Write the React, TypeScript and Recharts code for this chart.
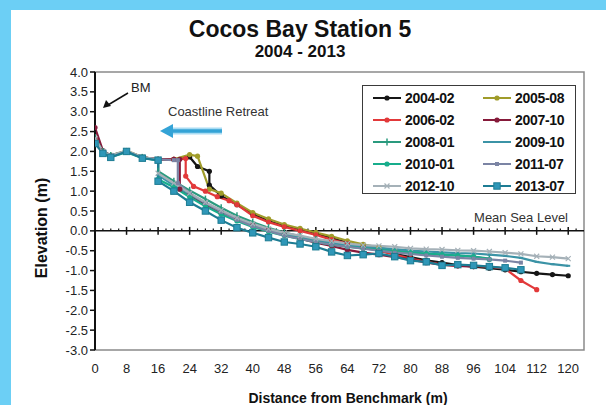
import React from 'react';
import { LineChart, Line, XAxis, YAxis, ReferenceLine, ReferenceArea, Legend } from 'recharts';

const FONT = '"Liberation Sans", Arial, sans-serif';

const distanceTicks = [0, 8, 16, 24, 32, 40, 48, 56, 64, 72, 80, 88, 96, 104, 112, 120];
const elevationTicks = [-3, -2.5, -2, -1.5, -1, -0.5, 0, 0.5, 1, 1.5, 2, 2.5, 3, 3.5, 4];

// survey profiles: distance from benchmark (m) / elevation (m)
const d2004_02 = [0, 2, 4, 8, 12, 16, 20, 24, 26, 29, 29, 32, 36, 40, 44, 48, 52, 56, 60, 64, 68, 72, 76, 80, 84, 88, 92, 96, 100, 104, 108, 112, 116, 120];
const e2004_02 = [2.3, 2.0, 1.88, 2.0, 1.85, 1.8, 1.8, 1.86, 1.62, 1.5, 1.15, 0.88, 0.66, 0.42, 0.25, 0.12, 0.04, -0.06, -0.18, -0.3, -0.4, -0.5, -0.58, -0.66, -0.74, -0.8, -0.86, -0.9, -0.94, -0.98, -1.03, -1.07, -1.1, -1.13];

const d2005_08 = [0, 2, 4, 8, 12, 16, 20, 24, 26, 29, 32, 36, 40, 44, 48, 52, 56, 60, 64, 68, 72, 76];
const e2005_08 = [2.28, 2.0, 1.9, 2.02, 1.86, 1.8, 1.8, 1.92, 1.88, 1.05, 0.95, 0.7, 0.46, 0.3, 0.16, 0.06, -0.04, -0.14, -0.25, -0.34, -0.42, -0.5];

const d2006_02 = [0, 2, 4, 8, 12, 16, 20, 23, 23, 25, 28, 31, 34, 36, 40, 44, 48, 52, 56, 60, 64, 68, 72, 76, 80, 84, 88, 92, 96, 100, 104, 108, 112];
const e2006_02 = [2.3, 2.0, 1.88, 2.0, 1.85, 1.8, 1.8, 1.82, 1.38, 1.12, 1.0, 0.86, 0.76, 0.66, 0.38, 0.22, 0.1, 0.0, -0.1, -0.22, -0.32, -0.42, -0.5, -0.6, -0.7, -0.78, -0.85, -0.88, -0.88, -0.9, -0.95, -1.25, -1.48];

const d2007_10 = [0, 2, 4, 8, 12, 16, 20, 21.5, 21.5, 24, 28, 32, 36, 40, 44, 48, 52, 56, 60, 64, 68, 72, 76, 80, 84, 88, 92, 96];
const e2007_10 = [2.6, 2.02, 1.9, 2.0, 1.85, 1.8, 1.8, 1.8, 1.05, 0.9, 0.66, 0.45, 0.28, 0.14, 0.02, -0.1, -0.2, -0.3, -0.38, -0.48, -0.55, -0.6, -0.66, -0.72, -0.8, -0.85, -0.88, -0.9];

const d2008_01 = [0, 2, 4, 8, 12, 16, 16, 20, 24, 28, 32, 36, 40, 44, 48, 52, 56, 60, 64, 68, 72, 76, 80, 84, 88, 92, 96, 100];
const e2008_01 = [2.35, 2.0, 1.9, 2.0, 1.85, 1.78, 1.5, 1.25, 1.02, 0.8, 0.58, 0.38, 0.22, 0.08, -0.04, -0.14, -0.22, -0.3, -0.36, -0.42, -0.46, -0.5, -0.54, -0.58, -0.6, -0.62, -0.65, -0.7];

const d2009_10 = [0, 2, 4, 8, 12, 16, 16, 20, 24, 28, 32, 36, 40, 44, 48, 52, 56, 60, 64, 68, 72, 76, 80, 84, 88, 92, 96, 100, 104, 108, 112, 116, 120];
const e2009_10 = [2.3, 1.98, 1.88, 2.0, 1.84, 1.78, 1.4, 1.15, 0.92, 0.7, 0.5, 0.3, 0.15, 0.02, -0.08, -0.17, -0.25, -0.3, -0.35, -0.4, -0.43, -0.46, -0.5, -0.52, -0.54, -0.56, -0.57, -0.6, -0.63, -0.68, -0.78, -0.84, -0.88];

const d2010_01 = [0, 2, 4, 8, 12, 16, 16, 20, 24, 28, 32, 36, 40, 44, 48, 52, 56, 60, 64, 68, 72, 76, 80, 84, 88, 92, 96, 100];
const e2010_01 = [2.25, 1.96, 1.86, 1.98, 1.83, 1.78, 1.3, 1.1, 0.85, 0.62, 0.42, 0.25, 0.1, -0.02, -0.12, -0.2, -0.28, -0.35, -0.4, -0.44, -0.48, -0.52, -0.55, -0.57, -0.6, -0.62, -0.65, -0.72];

const d2011_07 = [0, 2, 4, 8, 12, 16, 20, 21, 21, 24, 28, 32, 36, 40, 44, 48, 52, 56, 60, 64, 68, 72, 76, 80, 84, 88, 92, 96, 100, 104, 108];
const e2011_07 = [2.28, 1.98, 1.88, 2.0, 1.85, 1.8, 1.78, 1.78, 1.2, 0.95, 0.7, 0.48, 0.28, 0.12, 0.0, -0.12, -0.2, -0.28, -0.35, -0.4, -0.45, -0.5, -0.55, -0.58, -0.62, -0.65, -0.68, -0.7, -0.72, -0.75, -0.8];

const d2012_10 = [0, 2, 4, 8, 12, 16, 16, 20, 24, 28, 32, 36, 40, 44, 48, 52, 56, 60, 64, 68, 72, 76, 80, 84, 88, 92, 96, 100, 104, 108, 112, 116, 120];
const e2012_10 = [2.32, 2.0, 1.9, 2.02, 1.86, 1.8, 1.45, 1.2, 0.95, 0.72, 0.52, 0.33, 0.18, 0.05, -0.05, -0.12, -0.2, -0.26, -0.32, -0.36, -0.38, -0.4, -0.44, -0.46, -0.47, -0.49, -0.5, -0.52, -0.55, -0.58, -0.64, -0.66, -0.7];

const d2013_07 = [0, 2, 4, 8, 12, 16, 16, 20, 24, 28, 32, 36, 40, 44, 48, 52, 56, 60, 64, 68, 72, 76, 80, 84, 88, 92, 96, 100, 104, 108];
const e2013_07 = [2.2, 1.95, 1.85, 2.0, 1.83, 1.78, 1.25, 1.0, 0.72, 0.5, 0.27, 0.08, -0.05, -0.17, -0.28, -0.33, -0.4, -0.53, -0.62, -0.6, -0.57, -0.65, -0.75, -0.78, -0.87, -0.85, -0.87, -0.9, -0.93, -0.98];

const toPoints = (d: number[], e: number[]) => d.map((x, i) => ({ x, y: e[i] }));

type Marker = 'dot' | 'bar' | 'dash' | 'square' | 'cross' | 'bigSquare';

const series: { name: string; d: number[]; e: number[]; color: string; marker: Marker }[] = [
  { name: '2004-02', d: d2004_02, e: e2004_02, color: '#161616', marker: 'dot' },
  { name: '2005-08', d: d2005_08, e: e2005_08, color: '#a09c2a', marker: 'dot' },
  { name: '2006-02', d: d2006_02, e: e2006_02, color: '#e2393a', marker: 'dot' },
  { name: '2007-10', d: d2007_10, e: e2007_10, color: '#861a3a', marker: 'dot' },
  { name: '2008-01', d: d2008_01, e: e2008_01, color: '#2a9a7e', marker: 'bar' },
  { name: '2009-10', d: d2009_10, e: e2009_10, color: '#3b93a6', marker: 'dash' },
  { name: '2010-01', d: d2010_01, e: e2010_01, color: '#17ad8c', marker: 'dot' },
  { name: '2011-07', d: d2011_07, e: e2011_07, color: '#7b84a4', marker: 'square' },
  { name: '2012-10', d: d2012_10, e: e2012_10, color: '#a5b1b8', marker: 'cross' },
  { name: '2013-07', d: d2013_07, e: e2013_07, color: '#1d7c93', marker: 'bigSquare' },
];

const drawMarker = (kind: Marker, color: string, cx: number, cy: number, key?: string) => {
  switch (kind) {
    case 'bar':
      return <line key={key} x1={cx} x2={cx} y1={cy - 3.5} y2={cy + 3.5} stroke={color} strokeWidth={1.5} />;
    case 'dash':
      return <line key={key} x1={cx - 2} x2={cx + 2} y1={cy} y2={cy} stroke={color} strokeWidth={2} />;
    case 'square':
      return <rect key={key} x={cx - 2} y={cy - 2} width={4} height={4} fill={color} />;
    case 'cross':
      return (
        <g key={key} stroke={color} strokeWidth={1.2}>
          <line x1={cx - 2.5} x2={cx + 2.5} y1={cy - 2.5} y2={cy + 2.5} />
          <line x1={cx - 2.5} x2={cx + 2.5} y1={cy + 2.5} y2={cy - 2.5} />
        </g>
      );
    case 'bigSquare':
      return <rect key={key} x={cx - 3.2} y={cy - 3.2} width={6.4} height={6.4} fill="#2f97b8" stroke={color} strokeWidth={1} />;
    default:
      return <circle key={key} cx={cx} cy={cy} r={2.6} fill={color} />;
  }
};

const minorTicks: number[] = [];
for (let t = 2; t < 124; t += 2) if (t % 8 !== 0) minorTicks.push(t);

const renderLegend = () => (
  <div
    style={{
      width: 214,
      height: 109,
      boxSizing: 'border-box',
      border: '1.5px solid #3a3a3a',
      background: '#fff',
      display: 'grid',
      gridTemplateColumns: '110px 100px',
      gridAutoRows: '22px',
      padding: '1px 0 0 9px',
      fontFamily: FONT,
      fontWeight: 'bold',
      fontSize: 14,
      color: '#111',
    }}
  >
    {series.map((s) => (
      <div key={s.name} style={{ display: 'flex', alignItems: 'center' }}>
        <svg width={30} height={12} style={{ marginRight: 3 }}>
          <line x1={1} x2={29} y1={6} y2={6} stroke={s.color} strokeWidth={2} />
          {drawMarker(s.marker, s.color, 15, 6)}
        </svg>
        <span style={{ letterSpacing: -0.3 }}>{s.name}</span>
      </div>
    ))}
  </div>
);

export default function App() {
  return (
    <div style={{ position: 'absolute', left: 0, top: 0, width: 606, height: 405, background: '#fff', overflow: 'hidden' }}>
      <div style={{ position: 'absolute', left: 0, top: 0, width: 606, height: 10, background: '#6ccff5' }} />
      <div style={{ position: 'absolute', left: 0, top: 0, width: 11, height: 405, background: '#6ccff5' }} />
      <div style={{ position: 'absolute', left: 0, top: 0 }}>
        <LineChart width={606} height={405} margin={{ top: 72, right: 22, bottom: 0, left: 1 }}>
          <ReferenceArea x1={0} x2={124} y1={-3} y2={4} fill="none" stroke="#8a8a8a" strokeWidth={1.5} />
          <XAxis
            type="number"
            dataKey="x"
            domain={[0, 124]}
            ticks={distanceTicks}
            interval={0}
            axisLine={false}
            tickLine={false}
            tickMargin={8}
            height={55}
            tick={{ fontSize: 13, fill: '#222', fontFamily: FONT }}
            allowDataOverflow
          />
          <YAxis
            type="number"
            domain={[-3, 4]}
            ticks={elevationTicks}
            interval={0}
            width={94}
            tickSize={5}
            tickMargin={2}
            tickFormatter={(v: number) => v.toFixed(1)}
            axisLine={{ stroke: '#111', strokeWidth: 2 }}
            tickLine={{ stroke: '#111', strokeWidth: 1.5 }}
            tick={{ fontSize: 13, fill: '#222', fontFamily: FONT }}
            allowDataOverflow
          />
          <ReferenceLine y={0} stroke="#111" strokeWidth={1.5} />
          {distanceTicks.map((t) => (
            <ReferenceLine key={`M${t}`} segment={[{ x: t, y: -0.1 }, { x: t, y: 0.1 }]} stroke="#111" strokeWidth={1.5} />
          ))}
          {minorTicks.map((t) => (
            <ReferenceLine key={`m${t}`} segment={[{ x: t, y: 0 }, { x: t, y: 0.06 }]} stroke="#111" strokeWidth={1.2} />
          ))}
          {series.map((s) => (
            <Line
              key={s.name}
              name={s.name}
              data={toPoints(s.d, s.e)}
              dataKey="y"
              type="linear"
              stroke={s.color}
              strokeWidth={2.2}
              isAnimationActive={false}
              dot={(p: any) => drawMarker(s.marker, s.color, p.cx, p.cy, `${s.name}-${p.index}`)}
              activeDot={false}
            />
          ))}
          <Legend
            verticalAlign="middle"
            align="center"
            content={renderLegend}
            wrapperStyle={{ left: 362, top: 85, width: 214, height: 109 }}
          />
        </LineChart>
      </div>
      <svg width={606} height={405} style={{ position: 'absolute', left: 0, top: 0, pointerEvents: 'none' }}>
        <g fontFamily={FONT} fill="#111">
          <text x={300} y={37} textAnchor="middle" fontSize={23} fontWeight="bold">Cocos Bay Station 5</text>
          <text x={300} y={57} textAnchor="middle" fontSize={17} fontWeight="bold">2004 - 2013</text>
          <text x={348} y={403} textAnchor="middle" fontSize={14} fontWeight="bold">Distance from Benchmark (m)</text>
          <text transform="translate(47,228) rotate(-90)" textAnchor="middle" fontSize={16} fontWeight="bold">Elevation (m)</text>
          <text x={131} y={92} fontSize={13} fill="#222">BM</text>
          <text x={168} y={116} fontSize={13} fill="#333">Coastline Retreat</text>
          <text x={568} y={222} textAnchor="end" fontSize={13} fill="#333">Mean Sea Level</text>
        </g>
        <line x1={128} y1={93} x2={108} y2={105} stroke="#111" strokeWidth={1.5} />
        <polygon points="103,108 106,100 111,106" fill="#111" />
        <line x1={222} y1={131} x2={170} y2={131} stroke="#a9dcf3" strokeWidth={7} />
        <line x1={222} y1={131} x2={170} y2={131} stroke="#34a3d6" strokeWidth={3.5} />
        <polygon points="160,131 173,124 173,138" fill="#34a3d6" />
      </svg>
    </div>
  );
}
